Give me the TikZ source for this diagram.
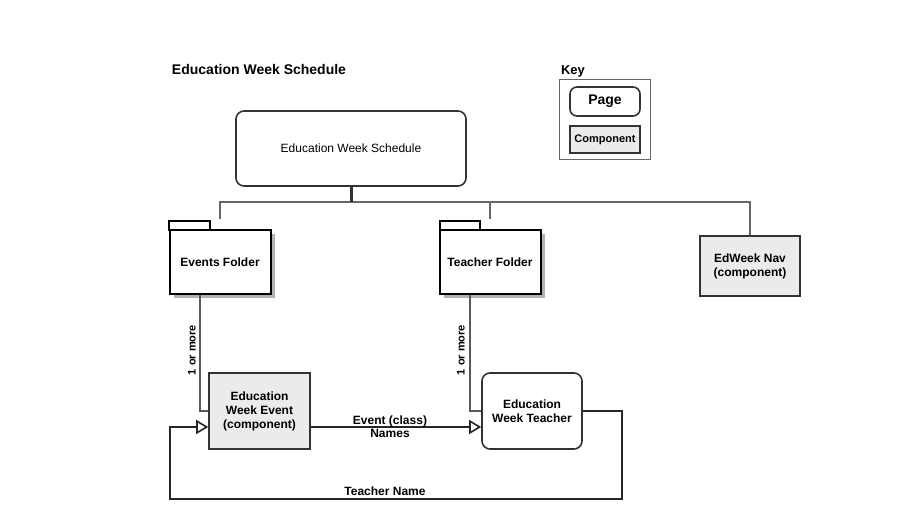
\documentclass[tikz,border=0pt]{standalone}
\usepackage{fontspec}
\setmainfont{Liberation Sans}
\usetikzlibrary{arrows.meta,shadows}
\begin{document}
\begin{tikzpicture}[x=1pt,y=-1pt,
  bold/.style={font=\fontsize{#1}{14}\selectfont\bfseries},
  page/.style={draw=black!80, line width=1.6pt, rounded corners=8pt, fill=white, inner sep=0pt, align=center},
  comp/.style={draw=black!80, line width=1.6pt, fill=black!8, inner sep=0pt, align=center},
  folder/.style={draw=black, line width=2pt, fill=white, inner sep=0pt,
    minimum width=101pt, minimum height=64pt,
    drop shadow={shadow xshift=4pt, shadow yshift=-4pt, fill=black!30, opacity=1}},
  foldertab/.style={draw=black, line width=2pt, fill=white},
  trunk/.style={draw=black!80, line width=3pt},
  tree/.style={draw=black!60, line width=2pt},
  link/.style={draw=black!65, line width=2pt},
  flow/.style={draw=black!85, line width=2pt, -{Triangle[open, length=12pt, width=14pt, line width=1.6pt]}},
]
\useasboundingbox (0,0) rectangle (917,524);

% heading
\node[bold=14] (title) at (259,69) {Education Week Schedule};

% key
\node[bold=13] (keylabel) at (573,71) {Key};
\node[draw=black!60, line width=1pt, minimum width=91pt, minimum height=79pt] (key) at (604.5,119.5) {};
\node[page, bold=14, minimum width=70pt, minimum height=29pt, rounded corners=7pt] (kpage) at (605,101.5) {Page};
\node[comp, bold=11, minimum width=70pt, minimum height=27pt] (kcomp) at (605,139.5) {Component};

% top page
\node[page, font=\fontsize{12}{14}\selectfont, minimum width=230pt, minimum height=75pt] (main) at (351,148.5) {Education Week Schedule};

% folders
\draw[foldertab] (169,221) rectangle (210,230);
\node[folder, bold=12] (evfolder) at (220,262) {Events Folder};
\draw[foldertab] (440,221) rectangle (480,230);
\node[folder, bold=12] (tfolder) at (490,262) {Teacher Folder};

% nav component
\node[comp, bold=12, minimum width=100pt, minimum height=60pt] (nav) at (750,266) {EdWeek Nav\\(component)};

% event and teacher
\node[comp, bold=12, minimum width=101pt, minimum height=76pt] (event) at (259.5,411) {Education\\Week Event\\(component)};
\node[page, bold=12, minimum width=100pt, minimum height=76pt] (teacher) at (532,411) {Education\\Week Teacher};

% tree from the top page
\coordinate (bus) at (351,202);
\coordinate (busL) at (220,202);
\coordinate (busR) at (750,202);
\coordinate (evdrop) at (220,219);
\coordinate (tdrop) at (490,219);
\coordinate (tbus) at (490,202);
\draw[tree] (evdrop) -- (busL) -- (busR) -- (nav.north);
\draw[tree] (tbus) -- (tdrop);
\draw[trunk] (main.south) -- (bus);

% folder contents
\draw[link] ([xshift=-20pt]evfolder.south) |- (event.west);
\node[bold=11, rotate=90] (evmult) at (192,350) {1 or more};
\draw[link] ([xshift=-20pt]tfolder.south) |- (teacher.west);
\node[bold=11, rotate=90] (tmult) at (461,350) {1 or more};

% data flows
\coordinate (flowy) at (0,427);
\draw[flow] (event.east |- flowy) -- (teacher.west |- flowy);
\node[align=center, font=\fontsize{12}{13}\selectfont\bfseries] (flowlabel) at (390,427) {Event (class)\\Names};

\coordinate (loopA) at (622,411);
\coordinate (loopB) at (622,499);
\coordinate (loopC) at (170,499);
\coordinate (loopD) at (170,427);
\draw[flow] (teacher.east) -- (loopA) -- (loopB) -- (loopC) -- (loopD) -- (event.west |- flowy);
\node[bold=12] (looplabel) at (385,491) {Teacher Name};
\end{tikzpicture}
\end{document}
